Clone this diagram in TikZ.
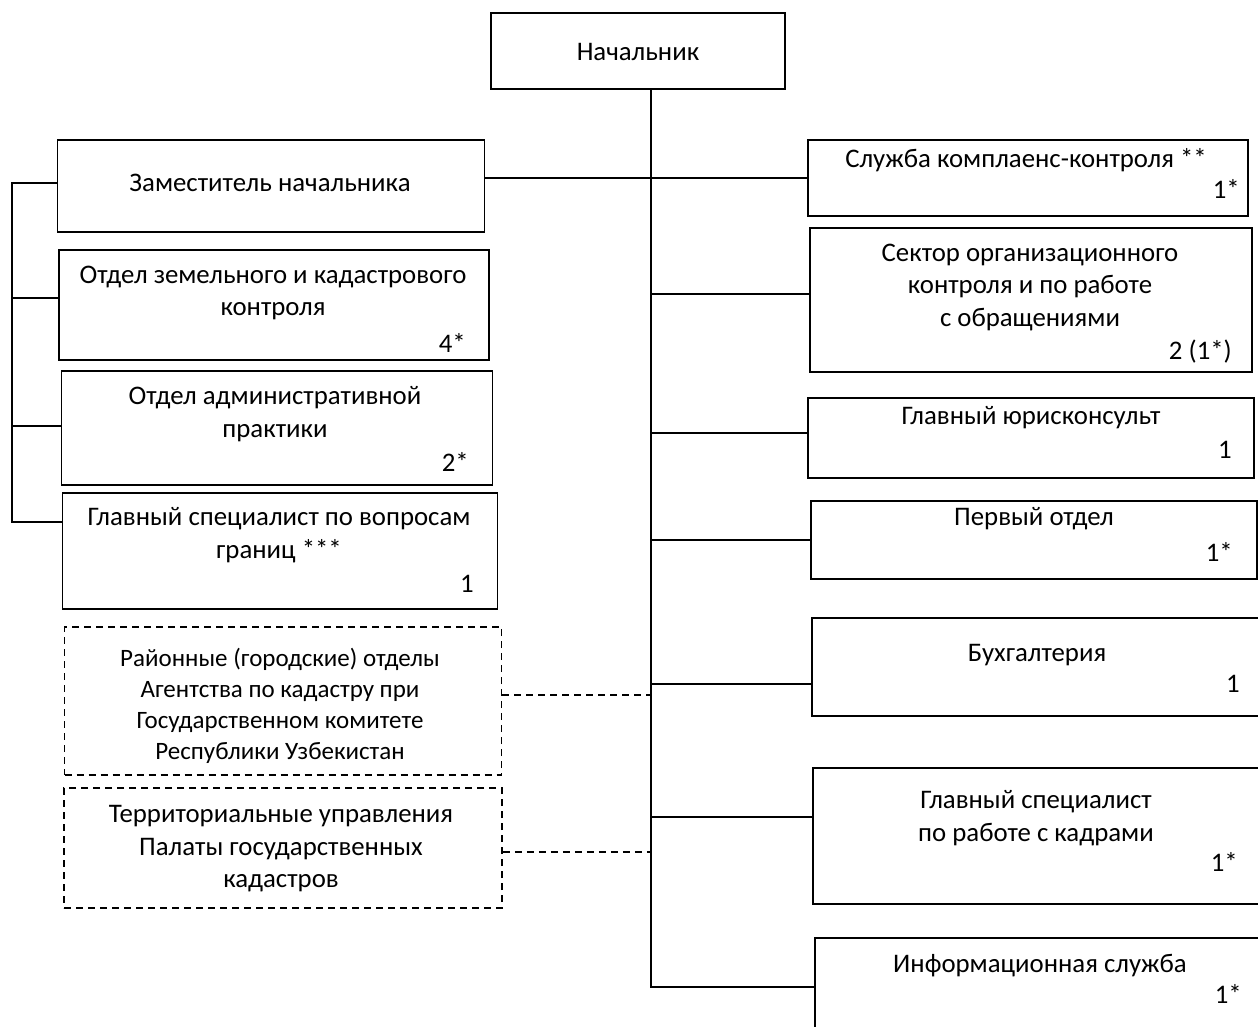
\documentclass[tikz,border=0pt]{standalone}
\usepackage{fontspec}
\setmainfont{Carlito}

\def \boxLine {1.8pt}
\def \textSize {\fontsize{26.8pt}{32.5pt}\selectfont}
\def \smallSize {\fontsize{25pt}{31pt}\selectfont}

\tikzset{
  unit/.style={draw, rectangle, line width=\boxLine, inner sep=0pt},
  branch/.style={unit, dash pattern=on 7pt off 5pt},
  caption/.style={align=center, inner sep=0pt, font=\textSize},
  staff/.style={anchor=east, inner sep=0pt, font=\textSize},
  link/.style={line width=\boxLine},
  dlink/.style={link, dash pattern=on 7pt off 5pt}
}

\begin{document}
\begin{tikzpicture}[x=1pt, y=-1pt]
  \clip (0,0) rectangle (1258,1026);

  % head
  \node[unit, minimum width=294pt, minimum height=76pt] (chief) at (638,51) {};
  \node[caption] (chieft) at (638,52) {Начальник};

  % left column
  \node[unit, minimum width=427pt, minimum height=92pt] (deputy) at (271,186) {};
  \node[caption] (deputyt) at (270,183) {Заместитель начальника};

  \node[unit, minimum width=430pt, minimum height=110pt] (land) at (274,305) {};
  \node[caption] (landt) at (273,293) {Отдел земельного и кадастрового\\контроля};
  \node[staff] (landn) at (466,343) {4*};

  \node[unit, minimum width=431pt, minimum height=114pt] (admin) at (277,428) {};
  \node[caption] (admint) at (275,414) {Отдел административной\\практики};
  \node[staff] (adminn) at (469,462) {2*};

  \node[unit, minimum width=435pt, minimum height=116pt] (border) at (280,551) {};
  \node[caption] (bordert) at (279,535) {Главный специалист по вопросам\\границ ***};
  \node[staff] (bordern) at (474,584) {1};

  \node[branch, minimum width=437pt, minimum height=148pt] (district) at (283,701) {};
  \node[caption, font=\smallSize] (districtt) at (280,706) {Районные (городские) отделы\\Агентства по кадастру при\\Государственном комитете\\Республики Узбекистан};

  \node[branch, minimum width=438pt, minimum height=120pt] (territ) at (283,848) {};
  \node[caption] (territt) at (281,849) {Территориальные управления\\Палаты государственных\\кадастров};

  % right column
  \node[unit, minimum width=440pt, minimum height=76pt] (compl) at (1028,178) {};
  \node[caption] (complt) at (1026,160) {Служба комплаенс-контроля **};
  \node[staff] (compln) at (1240,189) {1*};

  \node[unit, minimum width=442pt, minimum height=144pt] (sector) at (1031,300) {};
  \node[caption] (sectort) at (1030,287) {Сектор организационного\\контроля и по работе\\с обращениями};
  \node[staff] (sectorn) at (1232,352) {2 (1*)};

  \node[unit, minimum width=446pt, minimum height=80pt] (lawyer) at (1031,438) {};
  \node[caption] (lawyert) at (1031,418) {Главный юрисконсульт};
  \node[staff] (lawyern) at (1232,450) {1};

  \node[unit, minimum width=446pt, minimum height=78pt] (first) at (1034,540) {};
  \node[caption] (firstt) at (1034,519) {Первый отдел};
  \node[staff] (firstn) at (1233,552) {1*};

  \node[unit, minimum width=456pt, minimum height=98pt] (buh) at (1040,667) {};
  \node[caption] (buht) at (1037,655) {Бухгалтерия};
  \node[staff] (buhn) at (1240,684) {1};

  \node[unit, minimum width=455pt, minimum height=136pt] (kadr) at (1040.5,836) {};
  \node[caption] (kadrt) at (1036,818) {Главный специалист\\по работе с кадрами};
  \node[staff] (kadrn) at (1238,862) {1*};

  \node[unit, minimum width=453pt, minimum height=122pt] (info) at (1041.5,999) {};
  \node[caption] (infot) at (1040,966) {Информационная служба};
  \node[staff] (infon) at (1242,994) {1*};

  % trunk
  \coordinate (trunk) at ([xshift=13pt]chief.south);
  \coordinate (trunkend) at (651,987);
  \draw[link] (trunk) -- (trunkend) -- (trunkend -| info.west);
  \draw[link] (compl.west) -- (compl.west -| deputy.east);
  \draw[link] ([yshift=6pt]sector.west) -- ([yshift=6pt]sector.west -| trunk);
  \draw[link] ([yshift=5pt]lawyer.west) -- ([yshift=5pt]lawyer.west -| trunk);
  \draw[link] (first.west) -- (first.west -| trunk);
  \draw[link] ([yshift=-17pt]buh.west) -- ([yshift=-17pt]buh.west -| trunk);
  \draw[link] ([yshift=19pt]kadr.west) -- ([yshift=19pt]kadr.west -| trunk);
  \draw[dlink] ([yshift=6pt]district.east) -- ([yshift=6pt]district.east -| trunk);
  \draw[dlink] ([yshift=-4pt]territ.east) -- ([yshift=-4pt]territ.east -| trunk);

  % deputy bracket
  \draw[link] ([yshift=3pt]deputy.west) -- ++(-45,0) |- ([yshift=29pt]border.west);
  \draw[link] ([yshift=7pt]land.west) -- ++(-47,0);
  \draw[link] ([yshift=2pt]admin.west) -- ++(-49.5,0);
\end{tikzpicture}
\end{document}
